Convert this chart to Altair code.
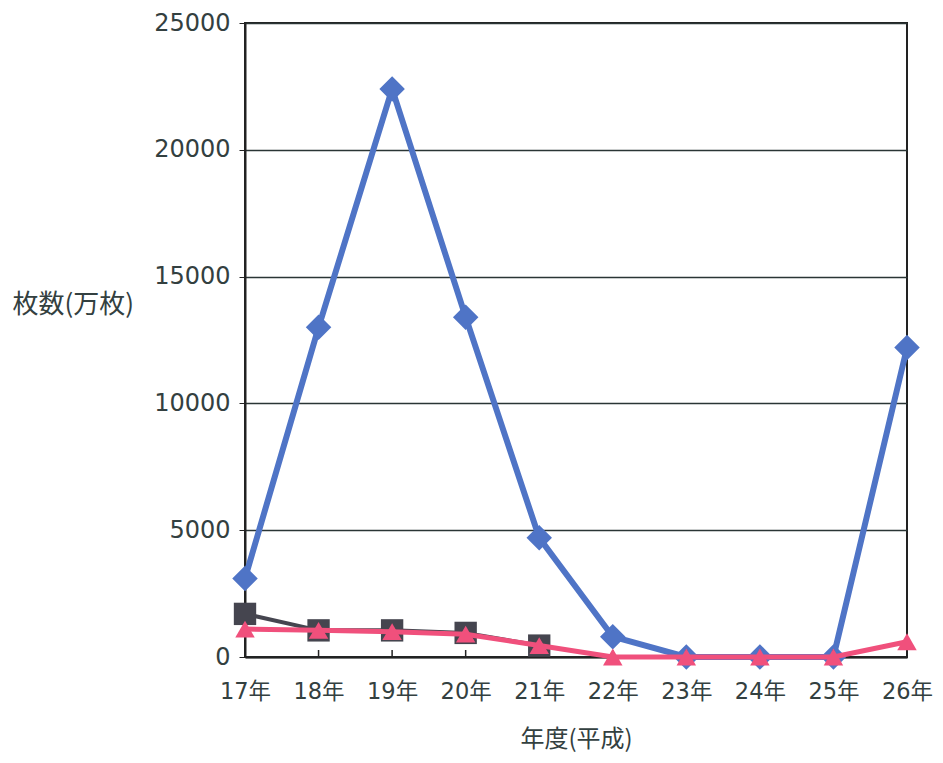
import altair as alt
import pandas as pd

years = ["17年", "18年", "19年", "20年", "21年", "22年", "23年", "24年", "25年", "26年"]
blue_vals = [3100, 13000, 22400, 13400, 4700, 800, 0, 0, 0, 12200]
gray_years = ["17年", "18年", "19年", "20年", "21年"]
gray_vals = [1700, 1050, 1050, 950, 450]
pink_vals = [1100, 1050, 1000, 900, 450, 0, 0, 0, 0, 600]

NUMFONT = "DejaVu Sans, Noto Sans CJK JP"
CJK = "Noto Sans CJK JP"
TXT = "#334040"
W, H = 662, 634

df_blue = pd.DataFrame({"year": years, "value": blue_vals})
df_gray = pd.DataFrame({"year": gray_years, "value": gray_vals})
df_pink = pd.DataFrame({"year": years, "value": pink_vals})
df_ticks = pd.DataFrame({"year": years})

x_scale = alt.Scale(type="point", padding=0, domain=years)

x_enc = alt.X(
    "year:N",
    sort=years,
    scale=x_scale,
    axis=alt.Axis(
        title="年度(平成)",
        labelAngle=0,
        labelFontSize=22.5,
        labelFont=NUMFONT,
        labelColor=TXT,
        labelPadding=23,
        titleFontSize=24,
        titleFont=CJK,
        titleFontWeight="normal",
        titleColor=TXT,
        titlePadding=25,
        ticks=False,
        domainColor="#222222",
        domainWidth=2,
        grid=False,
    ),
)

y_enc = alt.Y(
    "value:Q",
    scale=alt.Scale(domain=[0, 25000], nice=False),
    axis=alt.Axis(
        title="枚数(万枚)",
        values=[0, 5000, 10000, 15000, 20000, 25000],
        format="d",
        labelFontSize=24,
        labelFont=NUMFONT,
        labelColor=TXT,
        labelPadding=9,
        tickSize=6,
        tickColor="#222222",
        domainColor="#222222",
        domainWidth=2,
        grid=True,
        gridColor="#2a3535",
        gridWidth=1.4,
        titleAngle=0,
        titleAlign="left",
        titleBaseline="middle",
        titleX=-233,
        titleY=281,
        titleFontSize=26,
        titleFont=CJK,
        titleFontWeight="normal",
        titleColor=TXT,
    ),
)

ticks = alt.Chart(df_ticks).mark_rule(color="#222222", strokeWidth=1.5).encode(
    x=alt.X("year:N", sort=years, scale=x_scale),
    y=alt.value(H - 7),
    y2=alt.value(H),
)

blue = alt.Chart(df_blue).mark_line(
    color="#4f74c6", strokeWidth=6,
    point=alt.OverlayMarkDef(shape="diamond", size=650, filled=True, color="#4f74c6", opacity=1),
).encode(x=x_enc, y=y_enc)

gray = alt.Chart(df_gray).mark_line(
    color="#45454f", strokeWidth=4,
    point=alt.OverlayMarkDef(shape="square", size=500, filled=True, color="#45454f", opacity=1),
).encode(x=x_enc, y=y_enc)

pink = alt.Chart(df_pink).mark_line(
    color="#f0507c", strokeWidth=5,
    point=alt.OverlayMarkDef(shape="triangle-up", size=380, filled=True, color="#f0507c", opacity=1),
).encode(x=x_enc, y=y_enc)

chart = alt.layer(blue, ticks, gray, pink).properties(
    width=W, height=H, background="white",
    autosize=alt.AutoSizeParams(type="none"),
    padding={"left": 237, "top": 15, "right": 28, "bottom": 98},
).configure_view(stroke="#222222", strokeWidth=2)

chart.save("out.html", embed_options={"renderer": "svg", "actions": False})
